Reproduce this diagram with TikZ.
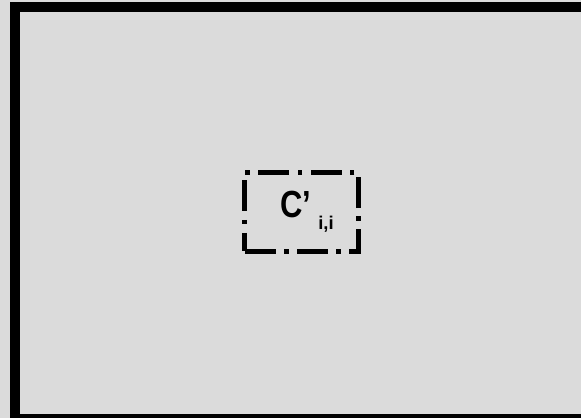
\documentclass[tikz,border=0pt]{standalone}
\usepackage{fontspec}
\setmainfont{Liberation Sans}
\usepackage{tikz}

\begin{document}
\begin{tikzpicture}[x=0.02cm,y=-0.02cm]
\useasboundingbox (0,0) rectangle (581,418);
\fill[gray!28] (0,0) rectangle (581,418);
\clip (0,0) rectangle (581,418);
\draw[line width=5.5pt] (15,7) rectangle (600,419);
\node[draw,line width=2.7pt,dash pattern=on 0.62cm off 0.17cm on 0.09cm off 0.17cm,minimum width=2.28cm,minimum height=1.58cm] (cii) at (301.5,212) {};
\node (clabel) at (307,212) {\bfseries\scalebox{0.82}[1]{\fontsize{21.5}{21.5}\selectfont C’}\kern4pt\raisebox{-1.25ex}{\fontsize{10.5}{10.5}\selectfont i,i}};
\end{tikzpicture}
\end{document}
